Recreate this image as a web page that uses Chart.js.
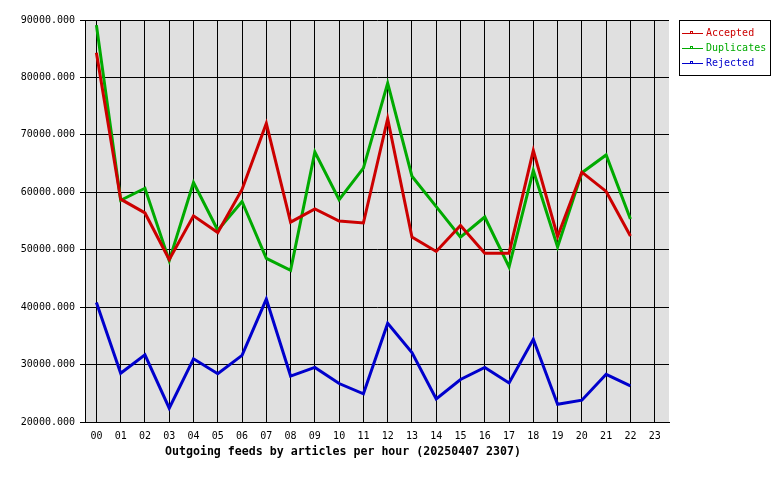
<!DOCTYPE html>
<html>
<head>
<meta charset="utf-8">
<title>Outgoing feeds</title>
<script src="https://cdn.jsdelivr.net/npm/chart.js@4/dist/chart.umd.min.js"></script>
<style>
    html, body { margin: 0; padding: 0; background: #fff; }
    #wrap { width: 780px; height: 480px; }
</style>
</head>
<body>
<div id="wrap"><canvas id="feedChart" width="780" height="480"></canvas></div>
<script>
const hours = ['00', '01', '02', '03', '04', '05', '06', '07', '08', '09', '10', '11',
    '12', '13', '14', '15', '16', '17', '18', '19', '20', '21', '22', '23']

const accepted = [84300, 58800, 56400, 48300, 55900, 53000, 60500, 72000, 54800, 57100, 55000, 54650,
    72800, 52200, 49700, 54200, 49400, 49400, 67300, 52300, 63500, 60150, 52400]
const duplicates = [89100, 58600, 60700, 48100, 61700, 53400, 58400, 48500, 46400, 67000, 58700, 64200,
    79000, 62800, 57500, 52200, 55700, 47000, 63800, 50500, 63400, 66500, 55350]
const rejected = [40800, 28500, 31700, 22400, 31000, 28400, 31600, 41400, 28000, 29500, 26700, 24900,
    37200, 32100, 24000, 27400, 29500, 26800, 34400, 23100, 23800, 28300, 26300]

const yTicks = [20000, 30000, 40000, 50000, 60000, 70000, 80000, 90000]

const chartTitle = 'Outgoing feeds by articles per hour (20250407 2307)'
const mono = '"DejaVu Sans Mono", "Liberation Mono", monospace'

function toPoints(values) {
    return values.map((v, i) => ({ x: i, y: v }))
}

// grå bakgrund i plotytan
const plotBackground = {
    id: 'plotBackground',
    beforeDraw(chart) {
        const { ctx, chartArea } = chart
        ctx.save()
        ctx.fillStyle = '#e0e0e0'
        ctx.fillRect(chartArea.left, chartArea.top, chartArea.right - chartArea.left, chartArea.bottom - chartArea.top)
        ctx.restore()
    }
}

// legend i ruta till höger, och titeln under x-axeln
const boxLegend = {
    id: 'boxLegend',
    afterDraw(chart) {
        const ctx = chart.ctx
        ctx.save()
        ctx.fillStyle = '#fff'
        ctx.fillRect(679.5, 20.5, 91, 55)
        ctx.strokeStyle = '#000'
        ctx.lineWidth = 1
        ctx.strokeRect(679.5, 20.5, 91, 55)

        ctx.font = '10px ' + mono
        ctx.textBaseline = 'middle'
        chart.data.datasets.forEach((ds, i) => {
            const y = 33.5 + i * 15
            ctx.strokeStyle = ds.borderColor
            ctx.beginPath()
            ctx.moveTo(682, y)
            ctx.lineTo(703, y)
            ctx.stroke()
            ctx.strokeRect(690.5, y - 2, 2, 2)
            ctx.fillStyle = ds.borderColor
            ctx.fillText(ds.label, 706, y)
        })

        ctx.fillStyle = '#000'
        ctx.font = 'bold 11.6px ' + mono
        ctx.textAlign = 'center'
        ctx.fillText(chartTitle, 343, 452)
        ctx.restore()
    }
}

function makeSeries(label, values, color) {
    return {
        label: label,
        data: toPoints(values),
        borderColor: color,
        backgroundColor: color,
        borderWidth: 3,
        pointRadius: 0,
        tension: 0,
        fill: false
    }
}

new Chart(document.getElementById('feedChart'), {
    type: 'line',
    data: {
        datasets: [
            makeSeries('Accepted', accepted, '#cc0000'),
            makeSeries('Duplicates', duplicates, '#00aa00'),
            makeSeries('Rejected', rejected, '#0000cc')
        ]
    },
    options: {
        responsive: false,
        animation: false,
        layout: { padding: { left: 0, right: 111, top: 20, bottom: 0 } },
        plugins: {
            legend: { display: false },
            tooltip: { enabled: false }
        },
        scales: {
            x: {
                type: 'linear',
                min: -0.47,
                max: 23.59,
                afterBuildTicks: (s) => { s.ticks = hours.map((h, i) => ({ value: i })) },
                afterFit: (s) => { s.height = 58 },
                grid: { color: '#000', lineWidth: 1, drawTicks: false },
                border: { color: '#000', width: 1 },
                ticks: {
                    color: '#000',
                    font: { family: mono, size: 10 },
                    padding: 8,
                    maxRotation: 0,
                    autoSkip: false,
                    callback: (v) => hours[v]
                }
            },
            y: {
                min: 20000,
                max: 90000,
                afterBuildTicks: (s) => { s.ticks = yTicks.map((v) => ({ value: v })) },
                afterFit: (s) => { s.width = 85 },
                grid: { color: '#000', lineWidth: 1, tickLength: 5, tickColor: '#000' },
                border: { color: '#000', width: 1 },
                ticks: {
                    color: '#000',
                    font: { family: mono, size: 10 },
                    padding: 5,
                    callback: (v) => v.toFixed(3)
                }
            }
        }
    },
    plugins: [plotBackground, boxLegend]
})
</script>
</body>
</html>
